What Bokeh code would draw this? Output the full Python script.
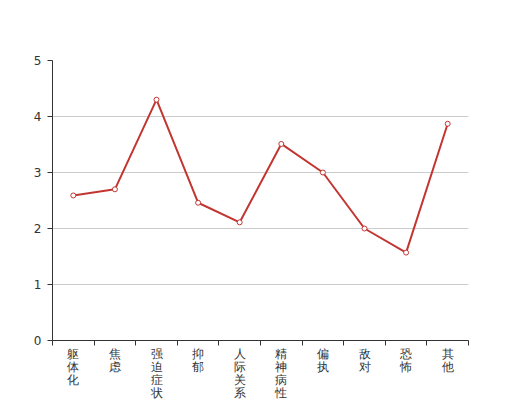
from bokeh.plotting import figure
from bokeh.models import Range1d, FixedTicker, ColumnDataSource
from bokeh.embed import file_html
from bokeh.resources import INLINE

categories = ["躯体化", "焦虑", "强迫症状", "抑郁", "人际关系敏感", "精神病性", "偏执", "敌对", "恐怖", "其他"]
scores = [2.59, 2.70, 4.30, 2.46, 2.11, 3.51, 3.00, 2.00, 1.57, 3.87]
y_ticks = [0, 1, 2, 3, 4, 5]

xs = [i + 0.5 for i in range(len(categories))]
src = ColumnDataSource(dict(x=xs, y=scores))

p = figure(frame_width=416, frame_height=280, output_backend="svg", toolbar_location=None,
           x_range=Range1d(0, len(categories)), y_range=Range1d(0, 5),
           min_border_left=52, min_border_right=52, min_border_top=60, min_border_bottom=60)
p.outline_line_color = None
p.xgrid.visible = False
p.ygrid.grid_line_color = "#cccccc"
p.ygrid.ticker = FixedTicker(ticks=y_ticks)

p.yaxis.ticker = FixedTicker(ticks=y_ticks)
p.yaxis.axis_line_color = "#333333"
p.yaxis.major_tick_line_color = "#333333"
p.yaxis.major_tick_out = 5
p.yaxis.major_tick_in = 0
p.yaxis.minor_tick_line_color = None
p.yaxis.major_label_text_font = "DejaVu Sans"
p.yaxis.major_label_text_font_size = "12px"
p.yaxis.major_label_text_color = "#333333"
p.yaxis.major_label_standoff = 6

p.xaxis.ticker = FixedTicker(ticks=xs, minor_ticks=list(range(len(categories) + 1)))
p.xaxis.major_label_overrides = {x: "\n".join(list(c)) for x, c in zip(xs, categories)}
p.xaxis.axis_line_color = "#333333"
p.xaxis.major_tick_line_color = None
p.xaxis.major_tick_out = 0
p.xaxis.major_tick_in = 0
p.xaxis.minor_tick_line_color = "#333333"
p.xaxis.minor_tick_out = 5
p.xaxis.minor_tick_in = 0
p.xaxis.major_label_standoff = 1
p.xaxis.major_label_text_font = "DejaVu Sans"
p.xaxis.major_label_text_font_size = "12px"
p.xaxis.major_label_text_color = "#333333"
p.xaxis.major_label_text_line_height = 0.95

p.line("x", "y", source=src, line_color="#c23531", line_width=2)
p.scatter("x", "y", source=src, size=5, fill_color="white", line_color="#c23531", line_width=1)

open("out.html", "w").write(file_html(p, INLINE))
